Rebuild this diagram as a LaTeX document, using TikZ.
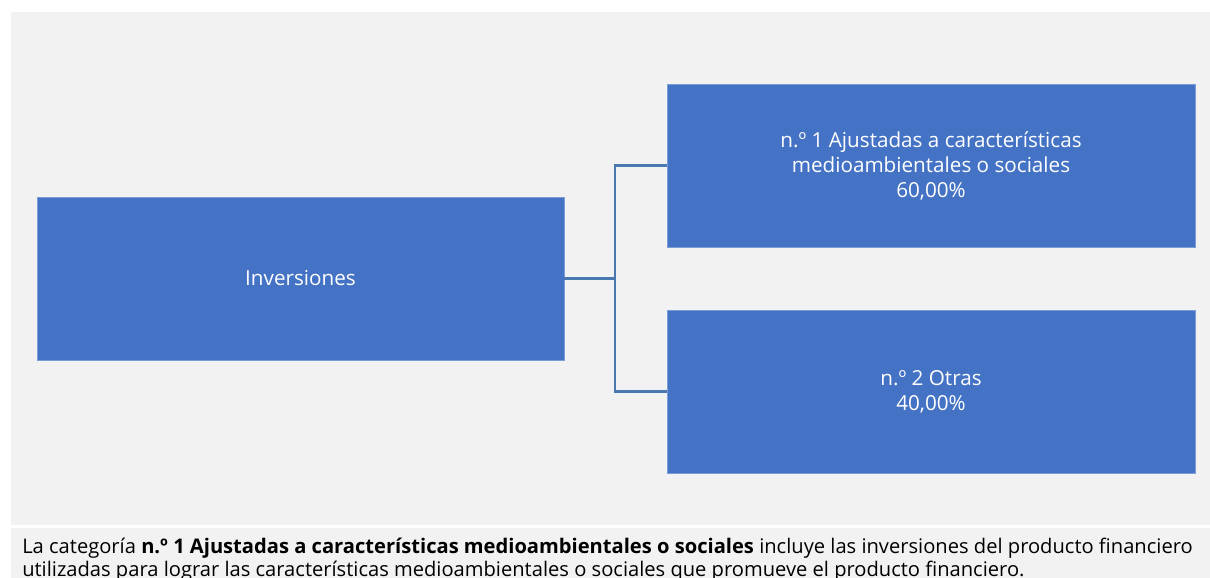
\documentclass[tikz,border=0pt]{standalone}
\usepackage{fontspec}
\setmainfont{Open Sans}
\definecolor{boxblue}{HTML}{4472C4}
\definecolor{linkblue}{HTML}{4A78B0}
\definecolor{panel}{HTML}{F2F2F2}
\begin{document}
\begin{tikzpicture}[x=0.75pt,y=-0.75pt,
  catbox/.style={rectangle,fill=boxblue,draw=boxblue!70!white,line width=0.4pt,text=white,align=center,
     minimum width=396pt,minimum height=122.25pt,inner sep=0pt,
     font=\fontsize{15.5}{18.75}\selectfont},
  link/.style={draw=linkblue,line width=1.6pt}]
\useasboundingbox (0,0) rectangle (1210,578);
\fill[white] (0,0) rectangle (1210,578);
\fill[panel] (11,12) rectangle (1210,524.5);
\fill[panel] (11,527.5) rectangle (1210,578);
\node[catbox,minimum width=395.25pt] (inv) at (300.5,278.5) {Inversiones};
\node[catbox] (c1) at (931,165.5) {n.º 1 Ajustadas a características\\medioambientales o sociales\\60,00\%};
\node[catbox] (c2) at (931,391.5) {n.º 2 Otras\\40,00\%};
\coordinate (j) at (615,278.5);
\draw[link] (inv.east) -- (j);
\draw[link] (j) |- (c1.west);
\draw[link] (j) |- (c2.west);
\node[anchor=north west,align=left,inner sep=0pt,font=\fontsize{15.1}{17.4}\selectfont] (note) at (22,537.5)
  {La categoría \textbf{n.º 1 Ajustadas a características medioambientales o sociales} incluye las inversiones del producto financiero\\utilizadas para lograr las características medioambientales o sociales que promueve el producto financiero.};
\end{tikzpicture}
\end{document}
